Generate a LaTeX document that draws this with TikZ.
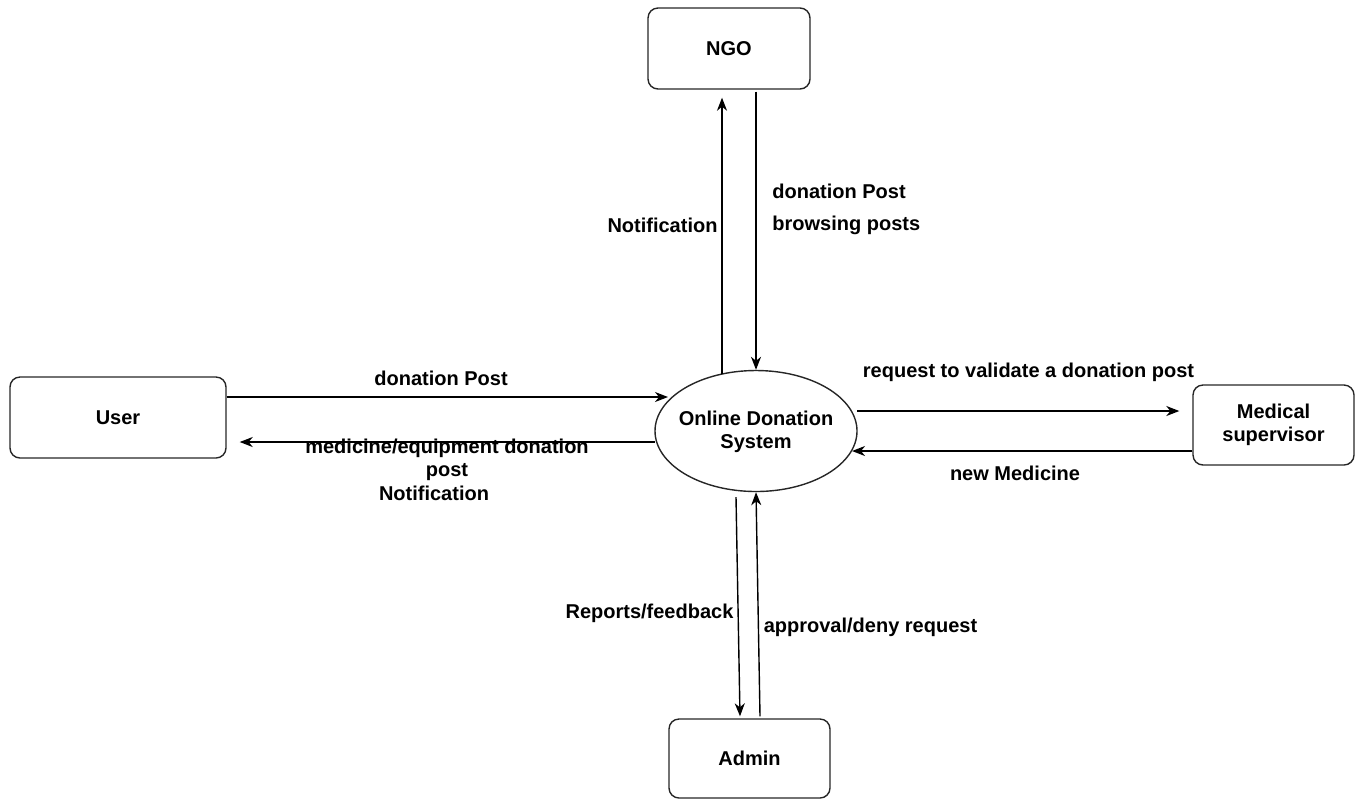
\documentclass[tikz,border=0pt]{standalone}
\usepackage{fontspec}
\setmainfont{Liberation Sans}
\usetikzlibrary{shapes.geometric,arrows.meta,calc}
\colorlet{edg}{black!85}
\tikzset{
    box/.style={draw=edg,rounded corners=5pt,line width=0.7pt,inner sep=0pt,align=center,minimum width=80.5pt,minimum height=40pt},
    proc/.style={draw=edg,ellipse,line width=0.7pt,inner sep=0pt,minimum width=101pt,minimum height=60.5pt},
    flow/.style={-{Stealth[length=6.5pt,width=5pt,inset=2pt]},line width=0.7pt},
    lbl/.style={inner sep=0pt,align=center}
}

\begin{document}
\begin{tikzpicture}[x=0.5pt,y=-0.5pt,font=\bfseries\fontsize{10}{11.7}\selectfont]
            \useasboundingbox (0,0) rectangle (1363,800);
            \node [proc] (sys) at (756,431) {};
            \node [lbl] (lsys) at ($(sys)+(0,1)$) {Online Donation\\System};
            \node [box,minimum width=108pt,minimum height=40.5pt] (user) at (118,417.5) {User};
            \node [box,minimum width=81pt,minimum height=40.5pt] (ngo) at (729,48.5) {NGO};
            \node [box] (medsup) at (1273.5,425) {Medical\\supervisor};
            \node [box,minimum height=39.5pt] (admin) at (749.5,758.5) {Admin};
            \draw [flow] ($(user.east)+(0,-20.5)$) -- ($(sys)+(-88,-34)$);
            \draw [flow] ($(sys)+(-101,11)$) -- ($(user.east)+(13,24.5)$);
            \draw [flow] ($(sys)+(101,-20)$) -- ($(medsup.west)+(-13,-14)$);
            \draw [flow] ($(medsup.west)+(0,26)$) -- ($(sys)+(96,20)$);
            \draw [flow] ($(sys)+(-34,-57)$) -- ($(ngo.south)+(-7,8)$);
            \draw [flow] ($(ngo.south)+(27,2)$) -- (sys.north);
            \draw [flow] ($(sys.south)+(-20,5)$) -- ($(admin.north)+(-9.5,-2)$);
            \draw [flow] ($(admin.north)+(10.5,-2)$) -- (sys.south);
            \node [lbl] (lpost) at (441,378) {donation Post};
            \node [lbl] (lmed) at (447,469.5) {medicine/equipment donation\\post\\Notification\hspace*{13pt}};
            \node [lbl] (lreq) at (1028.5,372) {request to validate a donation post};
            \node [lbl] (lnew) at (1015,473) {new Medicine};
            \node [lbl] (lnotif) at (662.5,225) {Notification};
            \node [lbl,anchor=west] (ldon) at (772,191) {donation Post};
            \node [lbl,anchor=west] (lbrowse) at (772,225) {browsing posts};
            \node [lbl] (lrep) at (649.5,613) {Reports/feedback};
            \node [lbl] (lappr) at (870.5,627) {approval/deny request};
        \end{tikzpicture}
\end{document}
